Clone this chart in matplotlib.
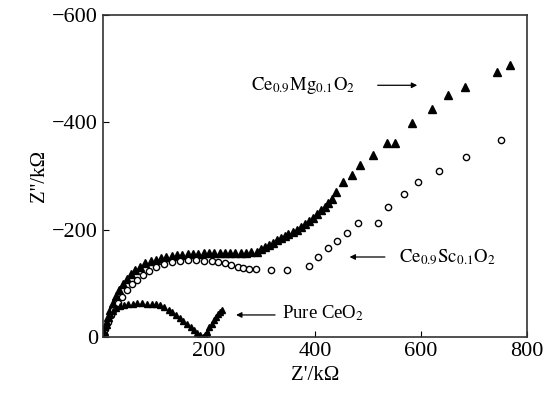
import numpy as np
import matplotlib
matplotlib.use("Agg")
from matplotlib import pyplot as plt

plt.rcParams['font.family'] = ['Liberation Serif', 'DejaVu Serif']
plt.rcParams['mathtext.fontset'] = 'stix'

# Ce0.9Mg0.1O2 (filled triangles)
mg_x = [0, 3, 6, 10, 14, 19, 25, 31, 38, 45, 53, 61, 70, 80, 90, 100, 110, 120, 130, 140,
        150, 160, 170, 180, 190, 200, 210, 220, 230, 240, 250, 260, 270, 280, 290, 298, 306,
        313, 321, 328, 335, 343, 350, 358, 366, 374, 381, 388, 396, 404, 411, 418, 425, 432,
        440, 453, 470, 485, 510, 536, 551, 583, 621, 651, 683, 743, 768]
mg_y = [0, -12, -24, -38, -50, -63, -76, -88, -99, -108, -117, -124, -131, -137, -141, -144,
        -147, -149, -151, -152, -153, -154, -155, -155, -156, -156, -156, -156, -156, -157,
        -157, -157, -157, -158, -159, -163, -168, -172, -176, -180, -184, -188, -192, -196,
        -200, -205, -210, -216, -222, -229, -236, -243, -250, -258, -270, -288, -302, -320,
        -339, -361, -361, -399, -425, -451, -466, -494, -507]

# Ce0.9Sc0.1O2 (open circles)
sc_x = [0, 5, 10, 15, 20, 28, 36, 45, 55, 65, 75, 88, 100, 115, 130, 145, 160, 175, 190, 205,
        218, 230, 242, 254, 265, 276, 288, 318, 348, 388, 405, 424, 442, 461, 482, 518, 537,
        567, 595, 633, 684, 750]
sc_y = [0, -15, -28, -40, -50, -63, -75, -87, -98, -107, -115, -123, -130, -136, -140, -142,
        -143, -143, -142, -141, -139, -137, -134, -131, -129, -127, -126, -124, -125, -132,
        -149, -166, -179, -194, -212, -212, -242, -266, -289, -309, -335, -367]

# Pure CeO2
pure_x = [0, 2, 4, 7, 10, 14, 19, 25, 32, 40, 48, 56, 65, 74, 83, 92, 100, 108, 116, 124,
          131, 138, 145, 152, 159, 166, 172, 178, 184, 189, 193, 197, 201, 205, 209, 213,
          217, 221, 225]
pure_y = [0, -10, -19, -28, -36, -43, -49, -54, -58, -60, -61, -62, -63, -63, -62, -62, -61,
          -59, -55, -51, -46, -41, -36, -30, -25, -19, -13, -8, -3, 0, -3, -10, -18, -25,
          -31, -37, -42, -47, -51]

x_ticks = [200, 400, 600, 800]
y_ticks = [0, -200, -400, -600]
y_ticklabels = ['0', '\u2212200', '\u2212400', '\u2212600']

fig = plt.figure(figsize=(5.44, 4.05), dpi=100)
ax = fig.add_axes([0.189, 0.168, 0.78, 0.795])

ax.plot(mg_x, mg_y, linestyle='none', marker='^', ms=5.5, color='black')
ax.plot(sc_x, sc_y, linestyle='none', marker='o', ms=4.5, mfc='white', mec='black', mew=1.0)
ax.plot(pure_x, pure_y, linestyle='none', marker='^', ms=3.8, color='black')

ax.set_xlim(0, 800)
ax.set_ylim(0, -600)
ax.set_xticks(x_ticks)
ax.set_yticks(y_ticks)
ax.set_yticklabels(y_ticklabels)
ax.tick_params(direction='in', length=4, labelsize=16, top=False, right=False)
for s in ax.spines.values():
    s.set_linewidth(1.2)
    s.set_color('#333333')

ax.set_xlabel("Z'/k\u03a9", fontsize=15, labelpad=4)
ax.set_ylabel("Z''/k\u03a9", fontsize=15, labelpad=2)

# labels with arrows
ap = dict(arrowstyle='-|>', color='black', lw=0.9, mutation_scale=8)
ax.text(280, -469, r'$\mathrm{Ce_{0.9}Mg_{0.1}O_2}$', fontsize=13.5, va='center', ha='left')
ax.annotate('', xy=(598, -469), xytext=(513, -469), arrowprops=ap)
ax.text(558, -149, r'$\mathrm{Ce_{0.9}Sc_{0.1}O_2}$', fontsize=13.5, va='center', ha='left')
ax.annotate('', xy=(460, -149), xytext=(537, -149), arrowprops=ap)
ax.text(337, -45, r'Pure CeO$_2$', fontsize=13.5, va='center', ha='left')
ax.annotate('', xy=(246, -41), xytext=(330, -41), arrowprops=ap)

fig.savefig('out.png', dpi=100)
